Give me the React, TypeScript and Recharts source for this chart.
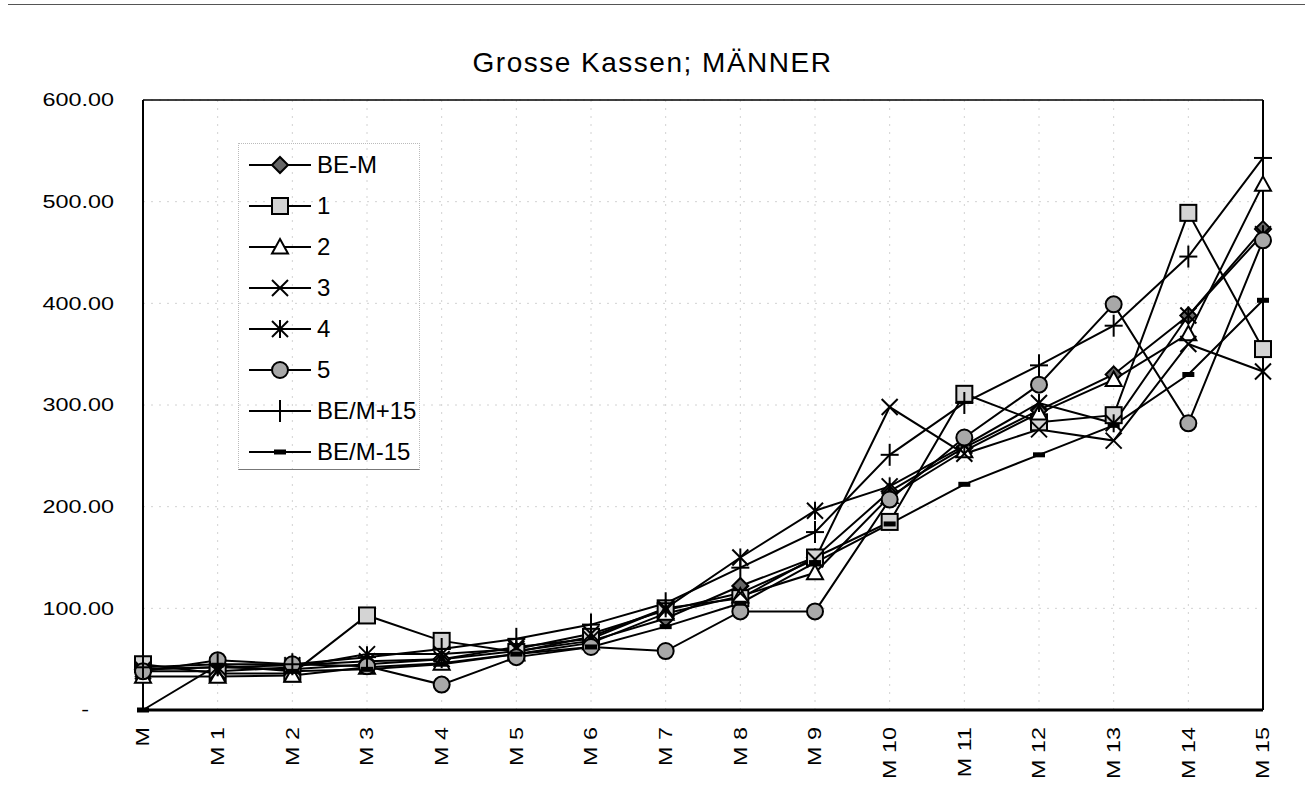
import { CartesianGrid, Legend, Line, LineChart, ReferenceLine, XAxis, YAxis } from "recharts";

const CHART_WIDTH = 1305;
const CHART_HEIGHT = 799;
const FONT = '"Liberation Sans", Arial, sans-serif';

const categories = ["M", "M 1", "M 2", "M 3", "M 4", "M 5", "M 6", "M 7", "M 8", "M 9", "M 10", "M 11", "M 12", "M 13", "M 14", "M 15"];
const yTicks = [0, 100, 200, 300, 400, 500, 600];

const beM = [40, 42, 40, 45, 50, 58, 68, 90, 122, 150, 215, 258, 295, 330, 388, 473];
const series1 = [45, 36, 36, 93, 68, 57, 72, 100, 110, 150, 185, 311, 283, 290, 489, 355];
const series2 = [33, 33, 34, 42, 46, 55, 66, 95, 112, 135, 210, 255, 292, 325, 370, 517];
const series3 = [38, 38, 42, 55, 55, 60, 75, 98, 115, 148, 298, 252, 276, 265, 360, 333];
const series4 = [40, 42, 44, 48, 50, 62, 70, 100, 150, 196, 220, 260, 302, 282, 388, 468];
const series5 = [38, 49, 45, 43, 25, 52, 62, 58, 97, 97, 207, 268, 320, 399, 282, 462];
const plus15 = [42, 45, 45, 52, 60, 70, 84, 105, 140, 175, 251, 302, 339, 378, 446, 543];
const minus15 = [0, 44, 38, 40, 45, 55, 62, 82, 105, 145, 183, 222, 251, 280, 330, 403];

const data = categories.map((cat, i) => ({
  cat,
  beM: beM[i],
  s1: series1[i],
  s2: series2[i],
  s3: series3[i],
  s4: series4[i],
  s5: series5[i],
  plus15: plus15[i],
  minus15: minus15[i],
}));

type MarkerKind = "diamond" | "square" | "triangle" | "cross" | "star" | "circle" | "plus" | "dash";

const seriesDefs: { key: string; name: string; marker: MarkerKind }[] = [
  { key: "beM", name: "BE-M", marker: "diamond" },
  { key: "s1", name: "1", marker: "square" },
  { key: "s2", name: "2", marker: "triangle" },
  { key: "s3", name: "3", marker: "cross" },
  { key: "s4", name: "4", marker: "star" },
  { key: "s5", name: "5", marker: "circle" },
  { key: "plus15", name: "BE/M+15", marker: "plus" },
  { key: "minus15", name: "BE/M-15", marker: "dash" },
];

function Marker({ kind, cx, cy }: { kind: MarkerKind; cx: number; cy: number }) {
  const s = 8;
  const st = { stroke: "#000", strokeWidth: 2 };
  switch (kind) {
    case "diamond":
      return <polygon points={`${cx},${cy - s} ${cx + s},${cy} ${cx},${cy + s} ${cx - s},${cy}`} fill="#666" {...st} />;
    case "square":
      return <rect x={cx - s} y={cy - s} width={s * 2} height={s * 2} fill="#d4d4d4" {...st} />;
    case "triangle":
      return <polygon points={`${cx},${cy - s} ${cx + s},${cy + s * 0.8} ${cx - s},${cy + s * 0.8}`} fill="#fff" {...st} />;
    case "cross":
      return (
        <g {...st}>
          <line x1={cx - s} y1={cy - s} x2={cx + s} y2={cy + s} />
          <line x1={cx - s} y1={cy + s} x2={cx + s} y2={cy - s} />
        </g>
      );
    case "star":
      return (
        <g {...st}>
          <line x1={cx - s} y1={cy - s} x2={cx + s} y2={cy + s} />
          <line x1={cx - s} y1={cy + s} x2={cx + s} y2={cy - s} />
          <line x1={cx} y1={cy - s - 1} x2={cx} y2={cy + s + 1} />
        </g>
      );
    case "circle":
      return <circle cx={cx} cy={cy} r={s} fill="#a8a8a8" {...st} />;
    case "plus":
      return (
        <g {...st}>
          <line x1={cx} y1={cy - s - 3} x2={cx} y2={cy + s + 3} />
          <line x1={cx - s - 1} y1={cy} x2={cx + s + 1} y2={cy} />
        </g>
      );
    case "dash":
      return <rect x={cx - 6} y={cy - 2.5} width={12} height={5} fill="#000" />;
  }
}

const makeDot = (kind: MarkerKind) => (props: any) => {
  const { cx, cy, index } = props;
  if (cx == null || cy == null) return <g key={`${kind}-${index}`} />;
  return (
    <g key={`${kind}-${index}`}>
      <Marker kind={kind} cx={cx} cy={cy} />
    </g>
  );
};

function YTick({ x, y, payload }: any) {
  const v = payload.value as number;
  const tx = v === 0 ? x - 25 : x;
  return (
    <g transform={`translate(${tx},${y}) scale(1.3,1)`}>
      <text x={0} y={0} textAnchor="end" dominantBaseline="central" fontSize={18} fontFamily={FONT} fill="#000">
        {v === 0 ? "-" : v.toFixed(2)}
      </text>
    </g>
  );
}

function XTick({ x, y, payload }: any) {
  return (
    <g transform={`translate(${x},${y + 9}) rotate(-90) scale(1.3,1)`}>
      <text x={0} y={0} textAnchor="end" dominantBaseline="central" fontSize={18} fontFamily={FONT} fill="#000">
        {payload.value}
      </text>
    </g>
  );
}

function LegendBox() {
  return (
    <div
      style={{
        width: 182,
        height: 327,
        borderTop: "1px dotted #bbb",
        borderLeft: "1px dotted #bbb",
        borderRight: "1px dotted #bbb",
        borderBottom: "1px solid #777",
        boxSizing: "border-box",
        fontFamily: FONT,
      }}
    >
      {seriesDefs.map((s) => (
        <div key={s.key} style={{ display: "flex", alignItems: "center", height: 41 }}>
          <svg width={78} height={28} style={{ flex: "none" }}>
            <line x1={10} y1={14} x2={72} y2={14} stroke="#000" strokeWidth={2} />
            <Marker kind={s.marker} cx={41} cy={14} />
          </svg>
          <span style={{ fontSize: 24, color: "#000" }}>{s.name}</span>
        </div>
      ))}
    </div>
  );
}

export default function App() {
  return (
    <div style={{ position: "absolute", left: 0, top: 0, width: CHART_WIDTH, height: CHART_HEIGHT, background: "#fff" }}>
      <div style={{ position: "absolute", left: 8, top: 4, width: CHART_WIDTH - 8, borderTop: "1px solid #555" }} />
      <div
        style={{
          position: "absolute",
          left: 0,
          width: CHART_WIDTH,
          top: 47,
          textAlign: "center",
          fontFamily: FONT,
          fontSize: 28,
          letterSpacing: 1.5,
          color: "#000",
        }}
      >
        Grosse Kassen; MÄNNER
      </div>
      <LineChart width={CHART_WIDTH} height={CHART_HEIGHT} data={data} margin={{ top: 100, right: 42, left: 0, bottom: 0 }}>
        <CartesianGrid stroke="#d2d2d2" strokeDasharray="2 6" />
        <XAxis
          dataKey="cat"
          height={89}
          interval={0}
          tick={<XTick />}
          tickLine={false}
          axisLine={{ stroke: "#000", strokeWidth: 3 }}
        />
        <YAxis
          width={143}
          domain={[0, 600]}
          ticks={yTicks}
          tick={<YTick />}
          tickLine={false}
          tickSize={6}
          tickMargin={23}
          axisLine={{ stroke: "#000", strokeWidth: 2 }}
        />
        <ReferenceLine y={600} stroke="#000" strokeWidth={1.5} />
        <ReferenceLine x="M 15" stroke="#000" strokeWidth={2} />
        <Legend
          layout="vertical"
          align="center"
          verticalAlign="middle"
          content={() => <LegendBox />}
          wrapperStyle={{ left: 238, top: 143, width: 182, height: 327 }}
        />
        {seriesDefs.map((s) => (
          <Line
            key={s.key}
            type="linear"
            dataKey={s.key}
            name={s.name}
            stroke="#000"
            strokeWidth={2}
            dot={makeDot(s.marker)}
            activeDot={false}
            isAnimationActive={false}
          />
        ))}
      </LineChart>
    </div>
  );
}
